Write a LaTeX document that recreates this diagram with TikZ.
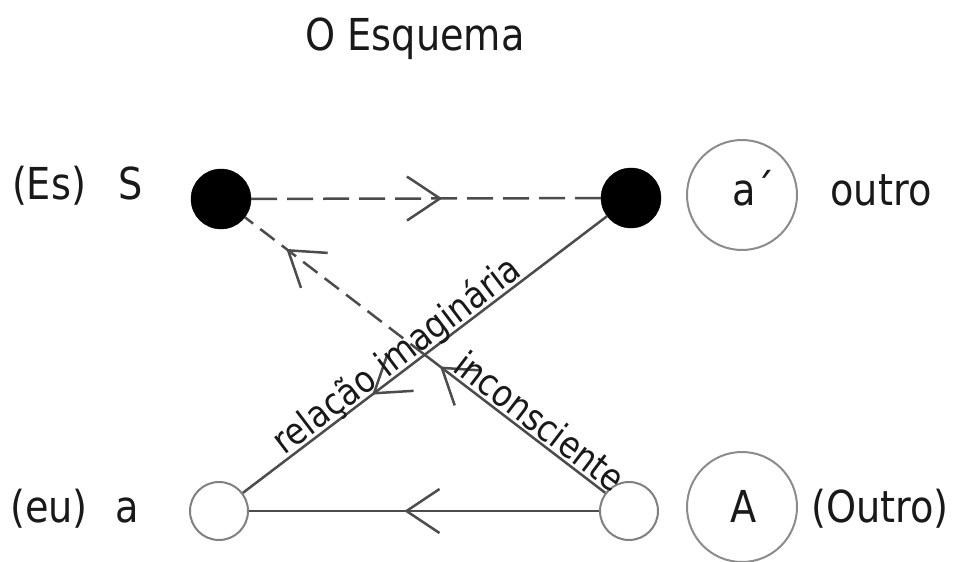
\documentclass[tikz,border=0pt]{standalone}
\usepackage{fontspec}
\setmainfont{DejaVu Sans}[FakeStretch=0.87]
\usetikzlibrary{decorations.markings,calc}
\tikzset{
  lbl/.style={font=\fontsize{44}{48}\selectfont, inner sep=0pt, anchor=base, text=black!90},
  dlbl/.style={font=\fontsize{37}{40}\selectfont, sloped, anchor=base, inner sep=0pt, text=black!90},
  blackdot/.style={circle, fill=black, draw=black, minimum size=60pt, inner sep=0pt},
  hole/.style={circle, draw=black!50, line width=2pt, minimum size=58pt, inner sep=0pt},
  bigring/.style={circle, draw=black!45, line width=2pt, minimum size=110pt, inner sep=0pt},
  conn/.style={draw=black!70, line width=2.5pt},
  topdash/.style={dash pattern=on 26pt off 10pt},
  diagdash/.style={dash pattern=on 18pt off 9pt},
  chev/.style={postaction={decorate}, decoration={markings,
    mark=at position #1 with {\draw[solid, line width=2.5pt, draw=black!70] (-33pt,22pt) -- (0pt,0pt) -- (-33pt,-22pt);}}}
}
\begin{document}
\begin{tikzpicture}[x=1pt,y=-1pt]
\useasboundingbox (0,0) rectangle (956,562);
\fill[white] (0,0) rectangle (956,562);

\node[lbl] (title) at (415,50) {O Esquema};

\node[blackdot] (S) at (221,199) {};
\node[blackdot] (ap) at (631,198) {};
\node[hole] (a) at (219,511) {};
\node[hole] (A) at (629,511) {};
\node[bigring] (bigap) at (742,195) {};
\node[bigring] (bigA) at (742,507) {};

\node[lbl] (es) at (49,199) {(Es)};
\node[lbl] (Slbl) at (131,199) {S};
\node[lbl, anchor=base west] (aplbl) at (732,205) {a´};
\node[lbl] (outro) at (881,205) {outro};
\node[lbl] (eu) at (49,522) {(eu)};
\node[lbl] (alab) at (127,522) {a};
\node[lbl] (Alab) at (744,522) {A};
\node[lbl] (Outro) at (880,522) {(Outro)};

\coordinate (X) at (intersection of S--A and a--ap);

% top dashed S -> a'
\draw[conn, topdash, chev=0.54] (S) -- (ap);
% bottom A -> a
\draw[conn, chev=0.55] (A) -- (a);
% a' -> a (imaginary relation)
\draw[conn, chev=0.64] (ap) -- (a);
% A -> S (unconscious)
\draw[conn, chev=0.905] (A) -- (X);
\draw[conn, diagdash, chev=0.76] (X) -- (S);

\path (a) -- (ap) node[dlbl, pos=0.45, yshift=4pt] (rel) {relação imaginária};
\path (S) -- (A) node[dlbl, pos=0.79, yshift=4pt] (inc) {inconsciente};
\end{tikzpicture}
\end{document}
